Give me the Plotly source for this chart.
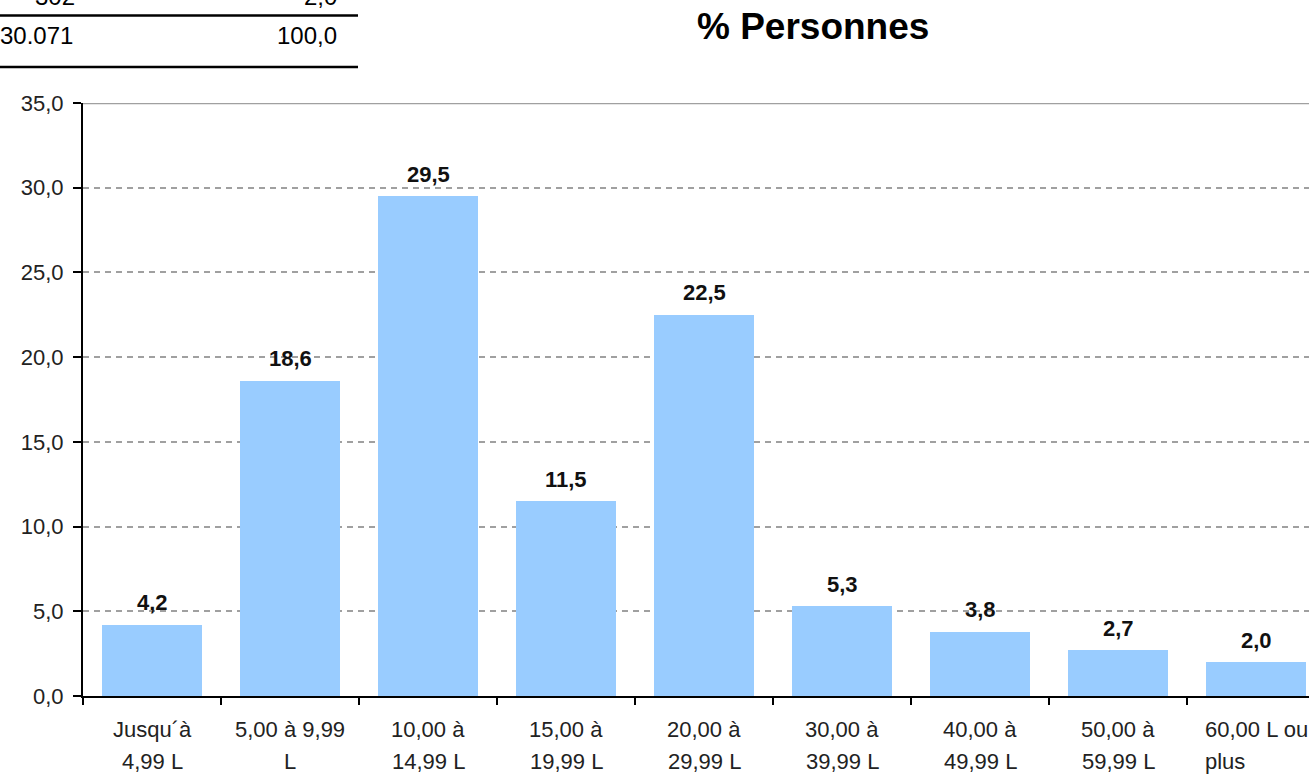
import plotly.graph_objects as go

# Distribution of persons by volume class (percent)
categories = [
    "Jusqu´à<br>4,99 L",
    "5,00 à 9,99<br>L",
    "10,00 à<br>14,99 L",
    "15,00 à<br>19,99 L",
    "20,00 à<br>29,99 L",
    "30,00 à<br>39,99 L",
    "40,00 à<br>49,99 L",
    "50,00 à<br>59,99 L",
    "60,00 L ou<br>plus",
]
percent = [4.2, 18.6, 29.5, 11.5, 22.5, 5.3, 3.8, 2.7, 2.0]

# Rows of the summary table shown above the chart
table_rows = [("302", "2,0"), ("30.071", "100,0")]

y_ticks = [0, 5, 10, 15, 20, 25, 30, 35]

W, H = 1309, 777
L, R, T, B = 83, 0, 103, 81
PW, PH = W - L - R, H - T - B


def px_x(px):
    return (px - L) / PW


def px_y(py):
    return (H - B - py) / PH


def fmt(v):
    return f"{v:.1f}".replace(".", ",")


n = len(categories)
xs = list(range(n))
unit = 138.0
x_max = -0.5 + PW / unit

fig = go.Figure()
fig.add_trace(go.Bar(
    x=xs, y=percent, width=0.725,
    marker=dict(color="#99CCFF", line=dict(width=0)),
    hoverinfo="skip",
))

annotations = []
# value labels above bars
for x, v in zip(xs, percent):
    annotations.append(dict(
        x=x, y=v, xref="x", yref="y", text=f"<b>{fmt(v)}</b>",
        showarrow=False, yshift=22, yanchor="middle",
        font=dict(family="Liberation Sans, Arial", size=22, color="#111"),
    ))

# category labels, two lines each
for x, cat in zip(xs, categories):
    lines = cat.split("<br>")
    last_wrap = (x == n - 1 and len(lines) > 1)
    for i, line in enumerate(lines):
        annotations.append(dict(
            x=x, xref="x", y=px_y(729 + 32 * i), yref="paper",
            text=line, showarrow=False, yanchor="middle",
            xanchor="left" if (last_wrap and i == 1) else "center",
            xshift=-53 if (last_wrap and i == 1) else 0,
            font=dict(family="Liberation Sans, Arial", size=22, color="#222"),
        ))

# title
annotations.append(dict(
    x=px_x(813), y=px_y(26), xref="paper", yref="paper",
    text="<b>% Personnes</b>", showarrow=False,
    xanchor="center", yanchor="middle",
    font=dict(family="Liberation Sans, Arial", size=37, color="#000"),
))

# summary table
row_centers = [-3.5, 35.5]
left_edges = [35, 0]
for (left, right), cy, lx in zip(table_rows, row_centers, left_edges):
    annotations.append(dict(
        x=px_x(lx - 2), y=px_y(cy), xref="paper", yref="paper",
        text=left, showarrow=False, xanchor="left", yanchor="middle",
        font=dict(family="Liberation Sans, Arial", size=24, color="#000"),
    ))
    annotations.append(dict(
        x=px_x(339), y=px_y(cy), xref="paper", yref="paper",
        text=right, showarrow=False, xanchor="right", yanchor="middle",
        font=dict(family="Liberation Sans, Arial", size=24, color="#000"),
    ))

shapes = [
    # top border of the plot frame
    dict(type="line", xref="paper", yref="y", x0=0, x1=1, y0=35, y1=35,
         line=dict(color="#A0A0A0", width=2.5), layer="above"),
    # table rules
    dict(type="line", xref="paper", yref="paper", x0=px_x(0), x1=px_x(358),
         y0=px_y(15.5), y1=px_y(15.5), line=dict(color="#000", width=2.5)),
    dict(type="line", xref="paper", yref="paper", x0=px_x(0), x1=px_x(358),
         y0=px_y(67), y1=px_y(67), line=dict(color="#000", width=2.5)),
]

fig.update_layout(
    width=W, height=H,
    margin=dict(l=L, r=R, t=T, b=B, pad=0),
    paper_bgcolor="white", plot_bgcolor="white",
    showlegend=False,
    separators=", ",
    bargap=0,
    annotations=annotations,
    shapes=shapes,
    xaxis=dict(
        range=[-0.5, x_max],
        tickmode="array",
        tickvals=[i - 0.5 for i in range(n)],
        showticklabels=False,
        ticks="outside", ticklen=7, tickwidth=2, tickcolor="#000",
        showline=True, linecolor="#000", linewidth=2,
        showgrid=False, zeroline=False, fixedrange=True,
    ),
    yaxis=dict(
        range=[0, 35],
        tickmode="array", tickvals=y_ticks,
        ticktext=[fmt(v) for v in y_ticks],
        ticks="outside", ticklen=8, tickwidth=2, tickcolor="#000",
        ticklabelstandoff=5,
        tickfont=dict(family="Liberation Sans, Arial", size=22, color="#222"),
        showline=True, linecolor="#000", linewidth=2,
        showgrid=True, gridcolor="#A0A0A0", gridwidth=1.5, griddash="6px,5px",
        zeroline=False, fixedrange=True,
    ),
)

fig.write_html("out.html")
